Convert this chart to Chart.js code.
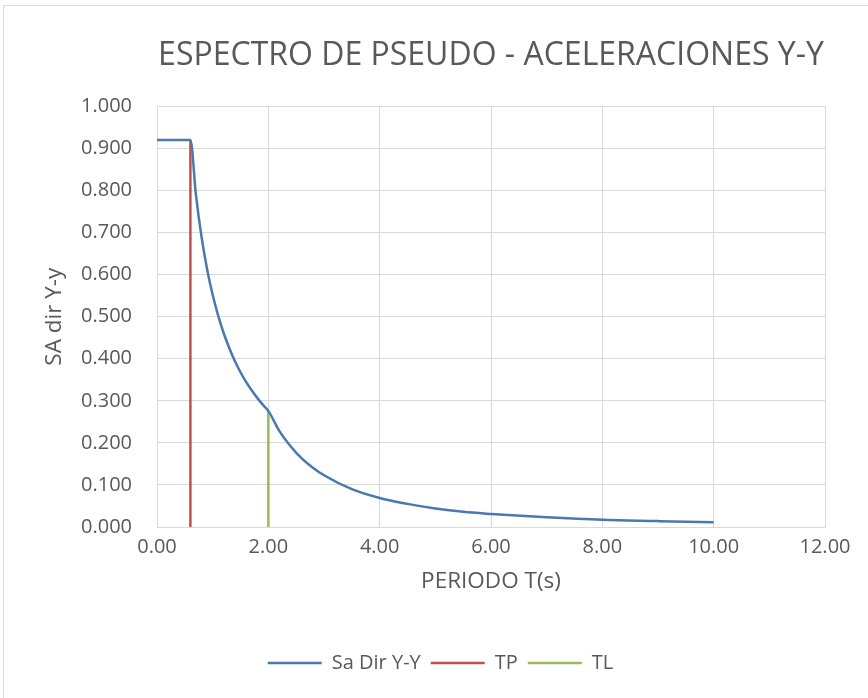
<!DOCTYPE html>
<html>
<head>
<meta charset="utf-8">
<script src="https://cdn.jsdelivr.net/npm/chart.js@4/dist/chart.umd.min.js"></script>
<style>
  body { margin: 0; background: #fff; overflow: hidden; }
  #frame { position: absolute; left: 3px; top: 5px; width: 900px; height: 720px; border: 1px solid #dcdcdc; }
  #spectrum { position: absolute; left: 0; top: 0; }
</style>
</head>
<body>
<div id="frame"></div>
<canvas id="spectrum" width="868" height="698"></canvas>
<script>
// periodo T (s) y pseudo-aceleracion Sa, direccion Y-Y
const periods = [0, 0.6, 0.7, 0.8, 0.9, 1.0, 1.1, 1.2, 1.3, 1.4, 1.5, 1.6, 1.7, 1.8, 1.9, 2.0,
  2.2, 2.4, 2.6, 2.8, 3.0, 3.5, 4.0, 4.5, 5.0, 5.5, 6.0, 7.0, 8.0, 9.0, 10.0];
const saValues = [0.92, 0.92, 0.789, 0.69, 0.613, 0.552, 0.502, 0.46, 0.425, 0.394, 0.368, 0.345, 0.325, 0.307, 0.291, 0.276,
  0.228, 0.192, 0.163, 0.141, 0.123, 0.09, 0.069, 0.055, 0.044, 0.036, 0.031, 0.023, 0.017, 0.014, 0.011];

// lineas verticales TP y TL
const tpX = [0.6, 0.6];
const tpY = [0, 0.92];
const tlX = [2.0, 2.0];
const tlY = [0, 0.276];

const seriesNames = ["Sa Dir Y-Y", "TP", "TL"];
const seriesColors = ["#4a78b0", "#c0504d", "#9bbb59"];

const FONT = "'Open Sans', sans-serif";
const TEXT = "#595959";
const GRID = "#d9d9d9";

function toPoints(xs, ys) {
  return xs.map((x, i) => ({ x: x, y: ys[i] }));
}

function lineSet(label, points, color) {
  return {
    label: label,
    data: points,
    showLine: true,
    borderColor: color,
    backgroundColor: color,
    borderWidth: 2.5,
    pointRadius: 0,
  };
}

const ctx = document.getElementById("spectrum").getContext("2d");

const saSet = lineSet(seriesNames[0], toPoints(periods, saValues), seriesColors[0]);
saSet.cubicInterpolationMode = "monotone";

new Chart(ctx, {
  type: "scatter",
  data: {
    datasets: [
      saSet,
      lineSet(seriesNames[1], toPoints(tpX, tpY), seriesColors[1]),
      lineSet(seriesNames[2], toPoints(tlX, tlY), seriesColors[2]),
    ],
  },
  options: {
    responsive: false,
    animation: false,
    layout: {
      padding: { left: 56, right: 43, top: 37, bottom: 15 },
    },
    scales: {
      x: {
        type: "linear",
        min: 0,
        max: 12,
        ticks: {
          stepSize: 2,
          color: TEXT,
          padding: 8,
          font: { family: FONT, size: 20 },
          callback: (v) => v.toFixed(2),
        },
        grid: { color: GRID, drawTicks: false },
        border: { color: GRID },
        title: {
          display: true,
          text: "PERIODO T(s)",
          color: TEXT,
          font: { family: FONT, size: 22.5 },
          padding: { top: 0, bottom: 48 },
        },
        afterFit: (scale) => {
          scale.height = 116;
        },
      },
      y: {
        min: 0,
        max: 1,
        ticks: {
          stepSize: 0.1,
          color: TEXT,
          padding: 25,
          font: { family: FONT, size: 20 },
          callback: (v) => v.toFixed(3),
        },
        grid: { color: GRID, drawTicks: false },
        border: { color: GRID },
        title: {
          display: true,
          text: "SA dir Y-y",
          color: TEXT,
          font: { family: FONT, size: 22.5 },
          // the axis box starts right of the title, so pull it back left
          padding: { top: -14.5, bottom: 0 },
        },
        afterFit: (scale) => {
          scale.width = 101;
        },
      },
    },
    plugins: {
      title: {
        display: true,
        fullSize: false,
        text: "ESPECTRO DE PSEUDO - ACELERACIONES Y-Y",
        color: TEXT,
        font: { family: FONT, size: 32, weight: "normal" },
        padding: { top: 0, bottom: 31 },
      },
      legend: {
        position: "bottom",
        labels: {
          usePointStyle: true,
          pointStyle: "line",
          pointStyleWidth: 54,
          color: TEXT,
          padding: 10,
          font: { family: FONT, size: 20 },
        },
      },
      tooltip: { enabled: false },
    },
  },
});
</script>
</body>
</html>
